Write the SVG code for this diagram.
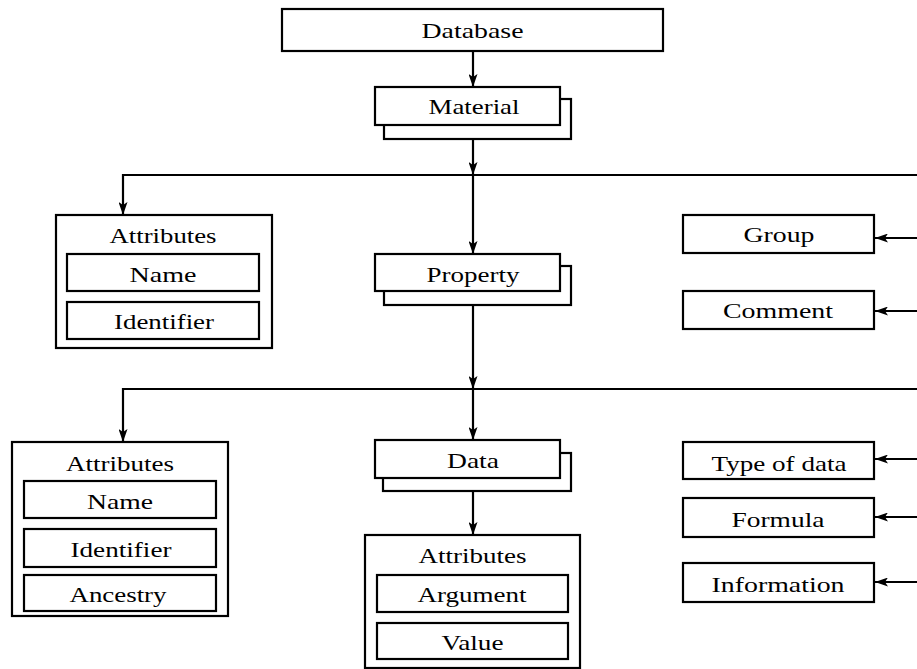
<svg xmlns="http://www.w3.org/2000/svg" width="917" height="669" viewBox="0 0 917 669">
<defs>
<marker id="ah" markerWidth="13" markerHeight="9" refX="13" refY="4.5" orient="auto" markerUnits="userSpaceOnUse">
<path d="M0,0 L13,4.5 L0,9 L3,4.5 Z" fill="#000"/>
</marker>
</defs>
<style>
rect{fill:#fff;stroke:#000;stroke-width:2.2}
.c line,.c path{stroke:#000;stroke-width:2.2;fill:none}
text{font-family:"Liberation Serif","Times New Roman",serif;font-size:22px;fill:#000;text-anchor:middle}
</style>
<rect x="0" y="0" width="917" height="669" style="stroke:none"/>
<g class="c" id="connectors">
<line x1="473" y1="51" x2="473" y2="87" marker-end="url(#ah)"/>
<line x1="473" y1="139" x2="473" y2="175" marker-end="url(#ah)"/>
<line x1="473" y1="175" x2="473" y2="254" marker-end="url(#ah)"/>
<path d="M917,175 H123 V215" marker-end="url(#ah)"/>
<line x1="917" y1="238" x2="875" y2="238" marker-end="url(#ah)"/>
<line x1="917" y1="311" x2="875" y2="311" marker-end="url(#ah)"/>
<line x1="473" y1="305" x2="473" y2="389" marker-end="url(#ah)"/>
<line x1="473" y1="389" x2="473" y2="440" marker-end="url(#ah)"/>
<path d="M917,389 H123 V442" marker-end="url(#ah)"/>
<line x1="473" y1="491" x2="473" y2="535" marker-end="url(#ah)"/>
<line x1="917" y1="459" x2="875" y2="459" marker-end="url(#ah)"/>
<line x1="917" y1="517" x2="875" y2="517" marker-end="url(#ah)"/>
<line x1="917" y1="582" x2="875" y2="582" marker-end="url(#ah)"/>
</g>
<g id="database">
<rect x="282" y="9" width="381" height="42"/>
<text x="472.5" y="38" textLength="102" lengthAdjust="spacingAndGlyphs">Database</text>
</g>
<g id="material">
<rect x="384" y="99" width="187" height="40"/>
<rect x="375" y="87" width="185" height="38"/>
<text x="474" y="114" textLength="91" lengthAdjust="spacingAndGlyphs">Material</text>
</g>
<g id="attributes1">
<rect x="56" y="215" width="216" height="133"/>
<text x="163" y="243" textLength="107" lengthAdjust="spacingAndGlyphs">Attributes</text>
<rect x="67" y="254" width="192" height="37"/>
<text x="163" y="282" textLength="67" lengthAdjust="spacingAndGlyphs">Name</text>
<rect x="67" y="302" width="192" height="37"/>
<text x="164" y="329" textLength="100" lengthAdjust="spacingAndGlyphs">Identifier</text>
</g>
<g id="property">
<rect x="384" y="266" width="187" height="39"/>
<rect x="375" y="254" width="185" height="37"/>
<text x="473" y="281.5" textLength="93" lengthAdjust="spacingAndGlyphs">Property</text>
</g>
<g id="group">
<rect x="683" y="215" width="191" height="38"/>
<text x="779" y="242" textLength="71" lengthAdjust="spacingAndGlyphs">Group</text>
</g>
<g id="comment">
<rect x="683" y="291" width="191" height="38"/>
<text x="778" y="318" textLength="110" lengthAdjust="spacingAndGlyphs">Comment</text>
</g>
<g id="attributes2">
<rect x="12" y="442" width="216" height="174"/>
<text x="120" y="470.5" textLength="108" lengthAdjust="spacingAndGlyphs">Attributes</text>
<rect x="24" y="481" width="192" height="37"/>
<text x="120" y="509" textLength="66" lengthAdjust="spacingAndGlyphs">Name</text>
<rect x="24" y="529" width="192" height="38"/>
<text x="121" y="556.5" textLength="101" lengthAdjust="spacingAndGlyphs">Identifier</text>
<rect x="24" y="575" width="192" height="36"/>
<text x="118" y="601.5" textLength="97" lengthAdjust="spacingAndGlyphs">Ancestry</text>
</g>
<g id="data">
<rect x="383" y="453" width="188" height="38"/>
<rect x="375" y="440" width="185" height="38"/>
<text x="473" y="468" textLength="52" lengthAdjust="spacingAndGlyphs">Data</text>
</g>
<g id="attributes3">
<rect x="365" y="535" width="215" height="133"/>
<text x="472.5" y="563" textLength="108" lengthAdjust="spacingAndGlyphs">Attributes</text>
<rect x="377" y="575" width="191" height="37"/>
<text x="472" y="601.5" textLength="109" lengthAdjust="spacingAndGlyphs">Argument</text>
<rect x="377" y="623" width="191" height="36"/>
<text x="472.5" y="650" textLength="62" lengthAdjust="spacingAndGlyphs">Value</text>
</g>
<g id="typeofdata">
<rect x="683" y="442" width="191" height="37"/>
<text x="779" y="470.5" textLength="135" lengthAdjust="spacingAndGlyphs">Type of data</text>
</g>
<g id="formula">
<rect x="683" y="498" width="191" height="39"/>
<text x="778" y="526.5" textLength="93" lengthAdjust="spacingAndGlyphs">Formula</text>
</g>
<g id="information">
<rect x="683" y="563" width="191" height="39"/>
<text x="778" y="591.5" textLength="133" lengthAdjust="spacingAndGlyphs">Information</text>
</g>
</svg>
